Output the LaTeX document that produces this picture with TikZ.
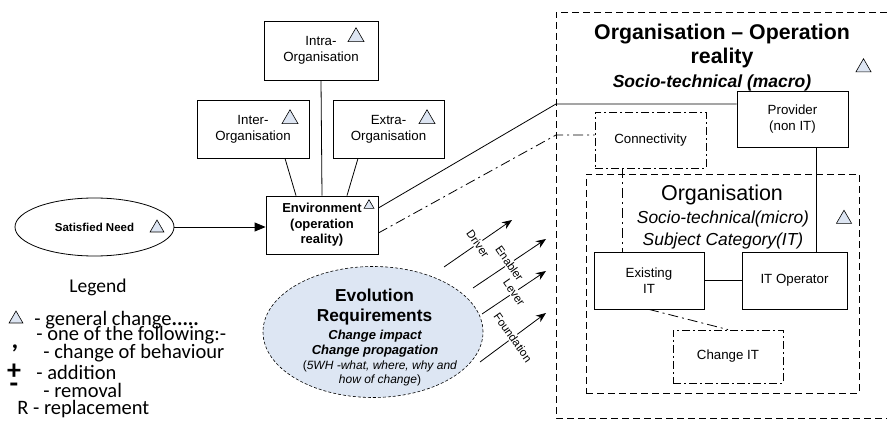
\documentclass[tikz,border=0pt]{standalone}
\usepackage{fontspec}
\setmainfont{Liberation Sans}
\newfontfamily\legendfont{Carlito}
\usetikzlibrary{shapes.geometric, arrows.meta, positioning}
\definecolor{chgblue}{RGB}{221, 229, 242}
\definecolor{evoblue}{RGB}{221, 230, 243}

\begin{document}
\begin{tikzpicture}[x=1pt, y=-1pt, line width=0.8pt,
    box/.style={rectangle, draw, align=center, inner sep=2pt, font=\fontsize{13.3}{16}\selectfont},
    dashdotbox/.style={box, dash pattern=on 8pt off 3pt on 2pt off 3pt},
    dashdot/.style={dash pattern=on 10pt off 4pt on 2pt off 4pt},
    orgframe/.style={draw, dash pattern=on 7pt off 4pt},
    chg/.style={regular polygon, regular polygon sides=3, draw, fill=chgblue, line width=0.6pt, inner sep=0pt, minimum size=18.5pt},
    force/.style={-{Stealth[length=10pt, width=8pt]}},
    forcelabel/.style={fill=white, rotate=-55, inner sep=1pt, font=\fontsize{11.5}{13}\selectfont},
    legendtext/.style={anchor=west, inner sep=0pt, font=\legendfont\fontsize{20.5}{22}\selectfont},
    legendsym/.style={inner sep=0pt, font=\legendfont\bfseries\fontsize{28}{28}\selectfont}
]
\useasboundingbox (0,0) rectangle (887,422);

% environment side
\node[box, minimum width=114pt, minimum height=59pt] (intra) at (321,50.5) {Intra-\\Organisation};
\node[box, minimum width=112pt, minimum height=58pt] (inter) at (253,129) {Inter-\\Organisation};
\node[box, minimum width=111pt, minimum height=58pt] (extra) at (388.5,129) {Extra-\\Organisation};
\node[box, minimum width=112pt, minimum height=58pt, font=\fontsize{13}{15.5}\selectfont\bfseries] (env) at (322,225) {Environment\\(operation\\reality)};
\node[ellipse, draw, minimum width=159pt, minimum height=58pt, inner sep=0pt, font=\fontsize{11.5}{13}\selectfont\bfseries] (need) at (94.5,227) {Satisfied Need};

\node[chg] (intrachg) at (356,37) {};
\node[chg] (interchg) at (290,119) {};
\node[chg] (extrachg) at (427,119) {};
\node[chg, minimum size=11.5pt] (envchg) at (369,205.5) {};
\node[chg, minimum size=16pt] (needchg) at (157,228) {};

\draw (intra.south) -- (env.north);
\draw ([xshift=32pt]inter.south) -- ([xshift=-26pt]env.north);
\draw ([xshift=-30.5pt]extra.south) -- ([xshift=25pt]env.north);
\draw[-{Triangle[length=11pt, width=9pt]}] (need.east) -- (need.east -| env.west);

% evolution requirements
\node[ellipse, draw, dash pattern=on 3pt off 2pt, line width=0.6pt, fill=evoblue, minimum width=220pt, minimum height=131pt, inner sep=0pt] (evo) at (373,332) {};
\node[align=center, inner sep=0pt, font=\fontsize{17.3}{20}\selectfont\bfseries] (evotitle) at (374.5,306.6) {Evolution\\Requirements};
\node[align=center, inner sep=0pt, font=\fontsize{13}{15}\selectfont\bfseries\itshape] (evochange) at (375,343.2) {Change impact\\Change propagation};
\node[align=center, inner sep=0pt, font=\fontsize{12}{14}\selectfont] (evowh) at (380,373.2) {(\textit{5WH -what, where, why and}\\\textit{how of change})};

\coordinate (drvA) at (444,267); \coordinate (drvB) at (512,220);
\coordinate (enbA) at (473,288); \coordinate (enbB) at (546,239);
\coordinate (levA) at (482,314); \coordinate (levB) at (546,271);
\coordinate (fndA) at (480,362); \coordinate (fndB) at (546,313);
\draw[force] (drvA) -- node[forcelabel] (drvlbl) {Driver} (drvB);
\draw[force] (enbA) -- node[forcelabel] (enblbl) {Enabler} (enbB);
\draw[force] (levA) -- node[forcelabel] (levlbl) {Lever} (levB);
\draw[force] (fndA) -- node[forcelabel] (fndlbl) {Foundation} (fndB);

% organisation - operation reality
\coordinate (orgTL) at (556,12);
\draw[orgframe] (887,12) -- (orgTL) -- (556,418) -- (887,418);
\node[align=center, font=\fontsize{21.3}{24}\selectfont\bfseries] (macro) at (722,46) {Organisation – Operation\\reality};
\node[font=\fontsize{17.5}{20}\selectfont\bfseries\itshape] (macrosub) at (712,83) {Socio-technical (macro)};
\node[chg, minimum size=17.5pt] (macrochg) at (863.5,67.5) {};

\node[orgframe, minimum width=273pt, minimum height=219pt, inner sep=0pt] (micro) at (722.5,283.5) {};
\node[font=\fontsize{21.5}{24}\selectfont] (microtitle) at (722,195) {Organisation};
\node[align=center, font=\fontsize{17.4}{22}\selectfont\itshape] (microsub) at (723,230) {Socio-technical(micro)\\Subject Category(IT)};
\node[chg, minimum size=17.5pt] (microchg) at (844,219) {};

\node[box, fill=white, minimum width=111pt, minimum height=56pt] (prov) at (792.5,119) {Provider\\(non IT)};
\node[dashdotbox, minimum width=111pt, minimum height=56pt] (conn) at (650.5,140) {Connectivity};
\node[box, fill=white, minimum width=110pt, minimum height=57pt] (exist) at (649,280.5) {Existing\\IT};
\node[box, minimum width=105pt, minimum height=57pt] (itop) at (794.5,280.5) {IT Operator};
\node[dashdotbox, minimum width=110pt, minimum height=53pt] (chgit) at (728,356.5) {Change IT};

\draw ([yshift=17pt]env.east) -- ([yshift=15pt]prov.west -| orgTL) -- ([yshift=15pt]prov.west);
\draw[dashdot] ([yshift=-8pt]env.east) -- ([yshift=5pt]conn.west -| orgTL) -- ([yshift=5pt]conn.west);
\draw ([xshift=23.5pt]prov.south) -- ([xshift=23.5pt]prov.south |- itop.north);
\draw[dashdot] ([xshift=-28.5pt]conn.south) -- ([xshift=-28.5pt]conn.south |- exist.north);
\draw (exist.east) -- (itop.west);
\draw[dashdot] (exist.south) -- (chgit.north);

% legend
\node[font=\legendfont\fontsize{19.5}{22}\selectfont] (lgd) at (98,287) {Legend};
\node[chg, minimum size=16pt] (lgdchg) at (16,319) {};
\node[legendtext] (gen) at (34,320) {- general change\textbf{.....}};
\node[legendtext] (one) at (36,335) {- one of the following:-};
\node[legendsym, font=\legendfont\bfseries\fontsize{26}{26}\selectfont] (beh0) at (15,348) {,};
\node[legendtext] (beh) at (43,353) {- change of behaviour};
\node[legendsym] (add0) at (14,372) {+};
\node[legendtext] (add) at (36,372) {- addition};
\node[legendsym] (rem0) at (14,388) {-};
\node[legendtext] (rem) at (43,390) {- removal};
\node[legendtext] (rep) at (17,409) {R - replacement};
\end{tikzpicture}
\end{document}
